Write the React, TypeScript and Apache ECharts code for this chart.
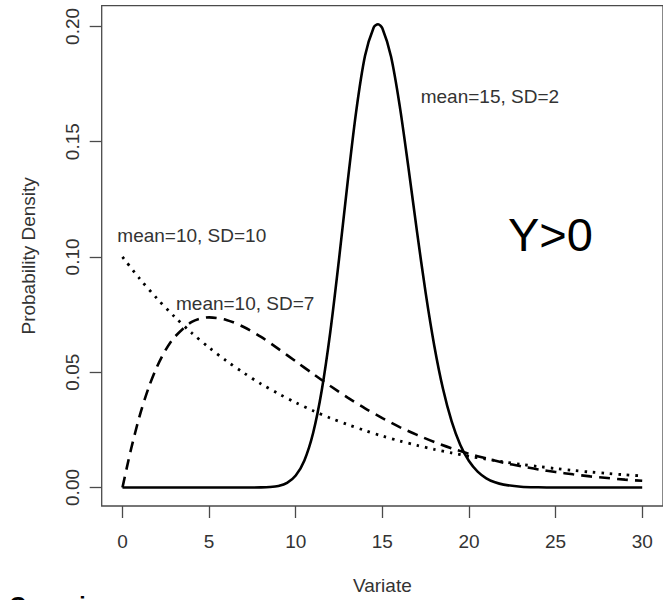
import React, { useEffect, useRef } from "react";
import * as echarts from "echarts";

// Tick values
const xTicks = [0, 5, 10, 15, 20, 25, 30];
const yTicks = [0, 0.05, 0.1, 0.15, 0.2];

// mean=15, SD=2 (solid)
const solidX = [0, 1, 2, 3, 4, 5, 6, 7, 8, 8.5, 9, 9.5, 10, 10.5, 11, 11.5, 12, 12.5, 13, 13.5, 14, 14.5, 14.75, 15, 15.5, 16, 16.5, 17, 17.5, 18, 18.5, 19, 19.5, 20, 20.5, 21, 21.5, 22, 23, 24, 25, 26, 27, 28, 29, 30];
const solidY = [0, 0, 0, 0, 0, 0, 0, 0, 0.00004, 0.00018, 0.00065, 0.00198, 0.00517, 0.01174, 0.02352, 0.04206, 0.06775, 0.0991, 0.13267, 0.16372, 0.18725, 0.19955, 0.20098, 0.19917, 0.18697, 0.16567, 0.13909, 0.11099, 0.08443, 0.06141, 0.04279, 0.02864, 0.01845, 0.01146, 0.00687, 0.00399, 0.00225, 0.00123, 0.00034, 0.00008, 0, 0, 0, 0, 0, 0];

// mean=10, SD=7 (dashed)
const dashX = [0, 0.25, 0.5, 1, 1.5, 2, 2.5, 3, 4, 5, 6, 7, 8, 9, 10, 11, 12, 13, 14, 15, 16, 17, 18, 19, 20, 21, 22, 23, 24, 25, 26, 27, 28, 29, 30];
const dashY = [0, 0.0086, 0.0168, 0.0313, 0.0431, 0.0525, 0.0598, 0.0652, 0.0718, 0.0738, 0.0727, 0.0696, 0.0653, 0.0601, 0.0547, 0.0493, 0.044, 0.039, 0.0343, 0.0301, 0.0262, 0.0228, 0.0197, 0.017, 0.0146, 0.0126, 0.0107, 0.0092, 0.0078, 0.0067, 0.0057, 0.0048, 0.0041, 0.0034, 0.0029];

// mean=10, SD=10 (dotted)
const dotX = [0, 1, 2, 3, 4, 5, 6, 7, 8, 9, 10, 11, 12, 13, 14, 15, 16, 17, 18, 19, 20, 21, 22, 23, 24, 25, 26, 27, 28, 29, 30];
const dotY = [0.1, 0.0905, 0.0819, 0.0741, 0.067, 0.0607, 0.0549, 0.0497, 0.0449, 0.0407, 0.0368, 0.0333, 0.0301, 0.0273, 0.0247, 0.0223, 0.0202, 0.0183, 0.0165, 0.015, 0.0135, 0.0123, 0.0111, 0.01, 0.0091, 0.0082, 0.0074, 0.0067, 0.0061, 0.0055, 0.005];

const labels = ["mean=15, SD=2", "mean=10, SD=7", "mean=10, SD=10"];

const FONT = "'Liberation Sans', Arial, sans-serif";
const TXT = "#333";

function pairs(xs: number[], ys: number[]) {
  return xs.map((x, i) => [x, ys[i]]);
}

export default function App() {
  const ref = useRef<HTMLDivElement>(null);
  useEffect(() => {
    if (!ref.current) return;
    const chart = echarts.init(ref.current, undefined, { renderer: "svg" });
    chart.setOption({
      animation: false,
      grid: {
        left: 101.7,
        top: 5.7,
        width: 569.3,
        height: 501.6,
        show: true,
        borderColor: "#4a4a4a",
        borderWidth: 1.3,
        backgroundColor: "transparent",
      },
      xAxis: {
        type: "value",
        min: -1.2,
        max: 31.2,
        name: "Variate",
        nameLocation: "middle",
        nameGap: 70,
        nameTextStyle: { fontFamily: FONT, fontSize: 19, color: TXT },
        axisLine: { show: false, onZero: false },
        splitLine: { show: false },
        axisTick: {
          show: true,
          length: 12,
          customValues: xTicks,
          lineStyle: { color: "#4a4a4a", width: 1.3 },
        },
        axisLabel: {
          customValues: xTicks,
          margin: 26,
          fontFamily: FONT,
          fontSize: 19,
          color: TXT,
        },
      },
      yAxis: {
        type: "value",
        min: -0.00804,
        max: 0.209,
        name: "Probability Density",
        nameLocation: "middle",
        nameRotate: 90,
        nameGap: 64,
        nameTextStyle: { fontFamily: FONT, fontSize: 19, color: TXT },
        axisLine: { show: false, onZero: false },
        splitLine: { show: false },
        axisTick: {
          show: true,
          length: 12,
          customValues: yTicks,
          lineStyle: { color: "#4a4a4a", width: 1.3 },
        },
        axisLabel: {
          customValues: yTicks,
          rotate: 90,
          margin: 20,
          fontFamily: FONT,
          fontSize: 19,
          color: TXT,
          formatter: (v: number) => v.toFixed(2),
        },
      },
      series: [
        {
          name: labels[0],
          type: "line",
          data: pairs(solidX, solidY),
          showSymbol: false,
          smooth: 0.3,
          lineStyle: { color: "#000", width: 2.6 },
        },
        {
          name: labels[1],
          type: "line",
          data: pairs(dashX, dashY),
          showSymbol: false,
          smooth: 0.3,
          lineStyle: { color: "#000", width: 2.6, type: [11, 7] },
        },
        {
          name: labels[2],
          type: "line",
          data: pairs(dotX, dotY),
          showSymbol: false,
          smooth: 0.3,
          lineStyle: { color: "#000", width: 2.8, type: [2.5, 6] },
        },
      ],
      graphic: [
        {
          type: "text",
          left: 420.7,
          top: 87,
          style: { text: labels[0], fontFamily: FONT, fontSize: 19, fill: TXT },
        },
        {
          type: "text",
          left: 176,
          top: 293.5,
          style: { text: labels[1], fontFamily: FONT, fontSize: 19, fill: TXT },
        },
        {
          type: "text",
          left: 117.3,
          top: 226,
          style: { text: labels[2], fontFamily: FONT, fontSize: 19, fill: TXT },
        },
        {
          type: "text",
          left: 508,
          top: 211,
          style: { text: "Y>0", fontFamily: FONT, fontSize: 47, fill: "#000" },
        },
        {
          type: "text",
          left: 9,
          top: 594,
          style: { text: "Gaussian", fontFamily: FONT, fontSize: 23, fontWeight: "bold", fill: "#000" },
        },
      ],
    });
    return () => chart.dispose();
  }, []);
  return (
    <div
      ref={ref}
      style={{ position: "fixed", left: 0, top: 0, width: 663, height: 600, background: "#fff" }}
    />
  );
}
